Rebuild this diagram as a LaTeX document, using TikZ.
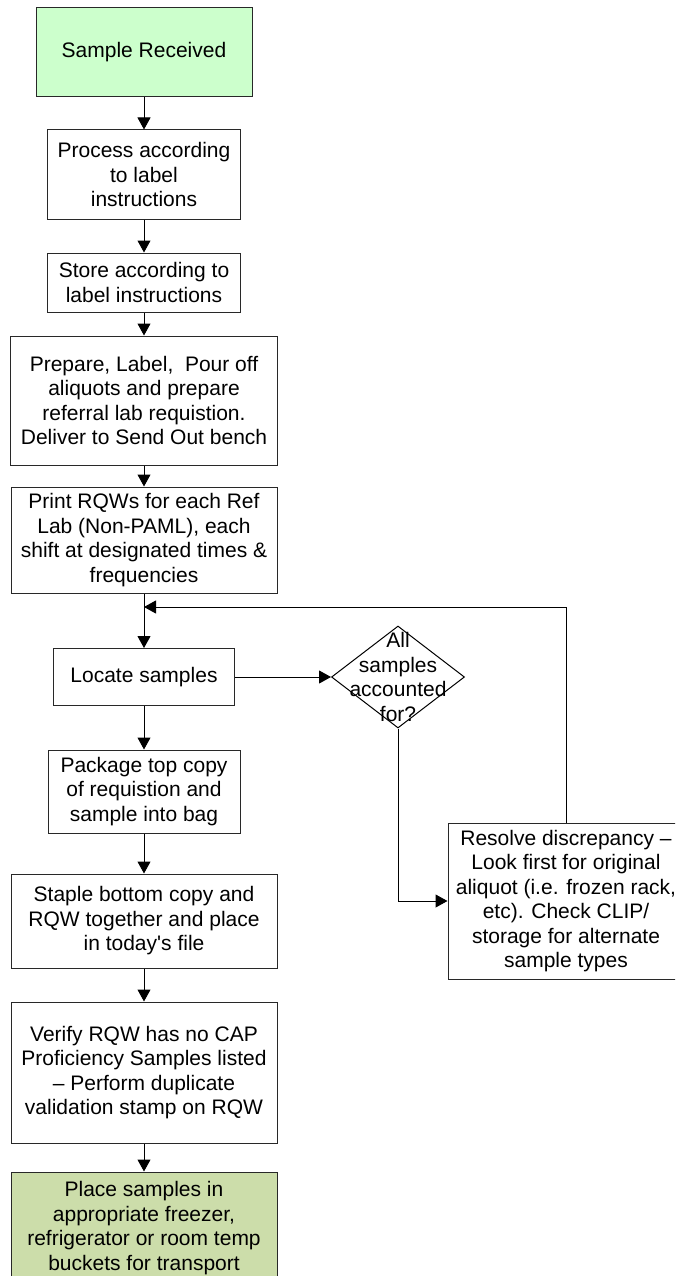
\documentclass[tikz,border=0pt]{standalone}
\usepackage{fontspec}
\newfontfamily\arialfont{Liberation Sans}
\usetikzlibrary{arrows.meta,shapes.geometric}
\definecolor{startgreen}{RGB}{204,255,204}
\definecolor{endgreen}{RGB}{204,221,170}
\definecolor{edge}{RGB}{40,40,40}
\tikzset{
  box/.style={draw=edge, line width=1pt, rectangle, inner sep=0pt, align=center,
    font=\arialfont\fontsize{21}{24.5}\selectfont},
  arr/.style={draw=black, line width=1pt, -{Triangle[length=12pt,width=13pt]}},
  conn/.style={draw=black, line width=1pt},
}
\begin{document}
\begin{tikzpicture}[x=1pt,y=-1pt]
\useasboundingbox (0,0) rectangle (675,1276);
\clip (0,0) rectangle (675,1276);
\fill[white] (0,0) rectangle (675,1276);

\node[box, fill=startgreen, minimum width=216, minimum height=89] (start) at (144,52.5) {Sample Received};
\node[box, minimum width=193, minimum height=89] (proc) at (144,174.5) {Process according\\to label\\instructions};
\node[box, minimum width=193, minimum height=59] (store) at (144,282.5) {Store according to\\label instructions};
\node[box, minimum width=267, minimum height=129] (prep) at (144,400.5) {Prepare, Label, \ Pour off\\aliquots and prepare\\referral lab requistion.\\Deliver to Send Out bench};
\node[box, minimum width=266, minimum height=106] (print) at (144,540) {Print RQWs for each Ref\\Lab (Non-PAML), each\\shift at designated times \&\\frequencies};
\coordinate (j) at (144,607);
\node[box, minimum width=181, minimum height=57] (locate) at (144,677) {Locate samples};
\node[box, minimum width=192, minimum height=83] (pack) at (144,791.5) {Package top copy\\of requistion and\\sample into bag};
\node[box, minimum width=266, minimum height=94] (staple) at (144,921) {Staple bottom copy and\\RQW together and place\\in today's file};
\node[box, minimum width=266, minimum height=141] (verify) at (144,1072.5) {Verify RQW has no CAP\\Proficiency Samples listed\\– Perform duplicate\\validation stamp on RQW};
\node[box, fill=endgreen, minimum width=266, minimum height=112] (place) at (144,1228) {Place samples in\\appropriate freezer,\\refrigerator or room temp\\buckets for transport};

\node[draw=black, line width=1pt, diamond, inner sep=0pt, minimum width=133, minimum height=102] (dia) at (398,677) {};
\node[align=center, inner sep=0pt, font=\arialfont\fontsize{21}{24.5}\selectfont] (diatext) at (398,677) {All\\samples\\accounted\\for?};

\node[box, minimum width=236, minimum height=156] (resolve) at (566,901) {Resolve discrepancy –\\Look first for original\\aliquot (i.e. frozen rack,\\etc). Check CLIP/\\storage for alternate\\sample types};

\draw[arr] (start) -- (proc);
\draw[arr] (proc) -- (store);
\draw[arr] (store) -- (prep);
\draw[arr] (prep) -- (print);
\draw[arr] (print) -- (locate);
\draw[arr] (locate) -- (pack);
\draw[arr] (pack) -- (staple);
\draw[arr] (staple) -- (verify);
\draw[arr] (verify) -- (place);
\draw[arr] (locate.east) -- (dia.west);
\draw[arr] (dia.south) |- (resolve.west);
\draw[arr] (resolve.north) |- (j);
\end{tikzpicture}
\end{document}
